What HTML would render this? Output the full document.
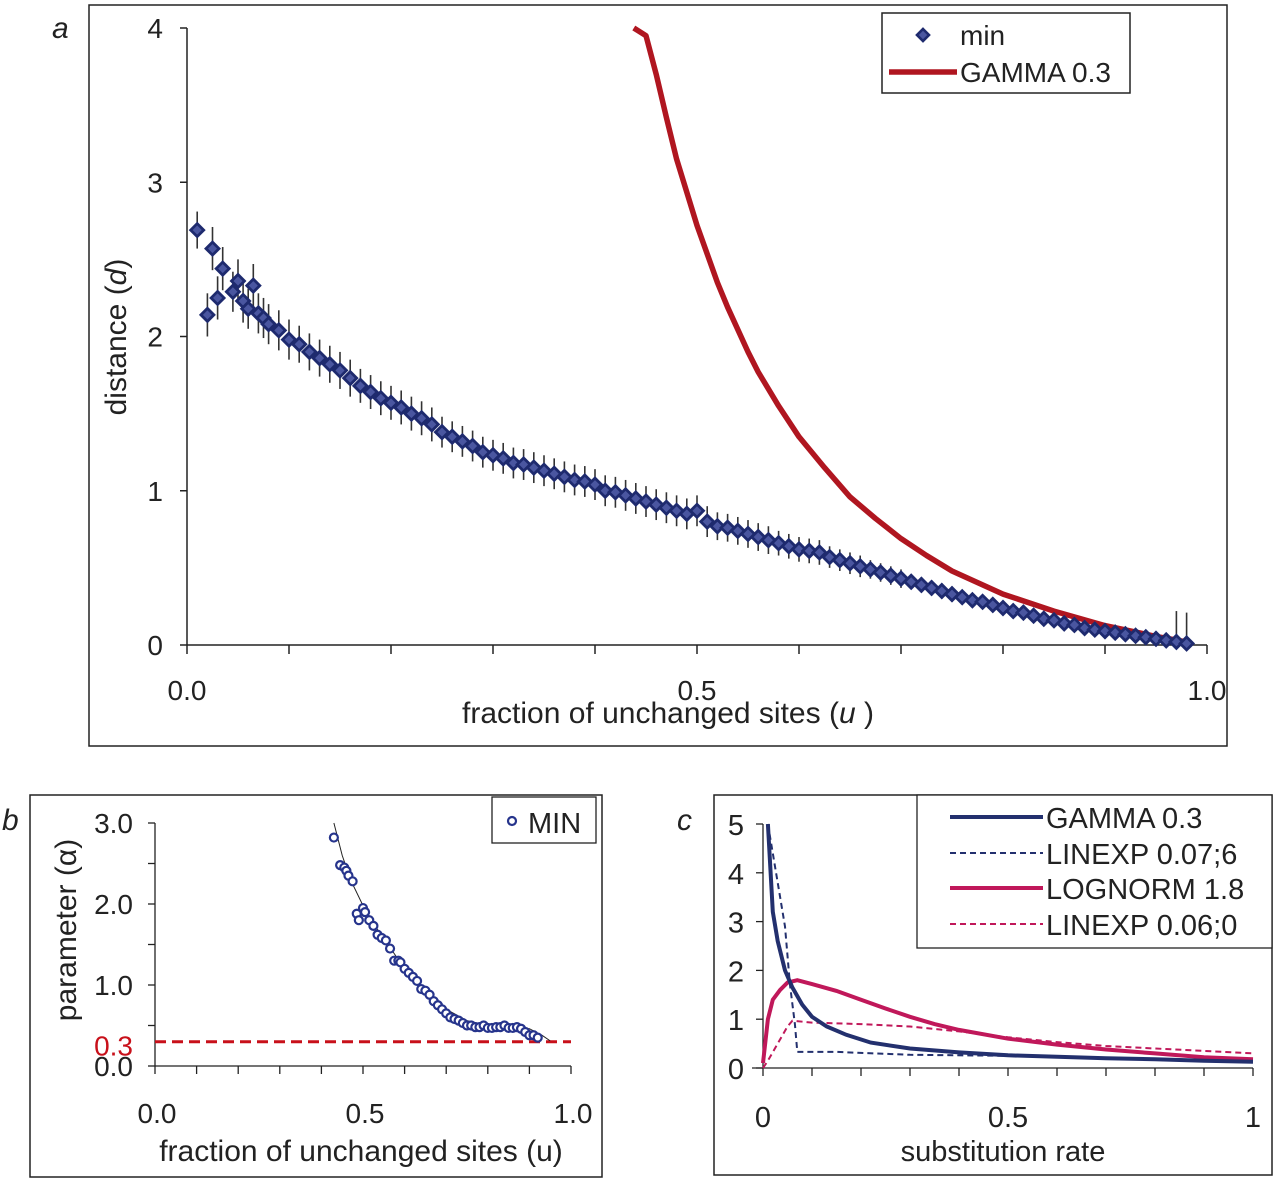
<!DOCTYPE html>
<html><head><meta charset="utf-8"><style>
html,body{margin:0;padding:0;background:#fff;}
svg{display:block;font-family:"Liberation Sans",sans-serif;}
</style></head><body>
<svg id="s" width="1280" height="1182" viewBox="0 0 1280 1182"></svg>
<script>
// ---------- Panel a data ----------
const uA=[0.01,0.02,0.025,0.03,0.035,0.045,0.05,0.055,0.06,0.065,0.07,0.075,0.08,0.09,0.1,0.11,0.12,0.13,0.14,0.15,0.16,0.17,0.18,0.19,0.2,0.21,0.22,0.23,0.24,0.25,0.26,0.27,0.28,0.29,0.3,0.31,0.32,0.33,0.34,0.35,0.36,0.37,0.38,0.39,0.4,0.41,0.42,0.43,0.44,0.45,0.46,0.47,0.48,0.49,0.5,0.51,0.52,0.53,0.54,0.55,0.56,0.57,0.58,0.59,0.6,0.61,0.62,0.63,0.64,0.65,0.66,0.67,0.68,0.69,0.7,0.71,0.72,0.73,0.74,0.75,0.76,0.77,0.78,0.79,0.8,0.81,0.82,0.83,0.84,0.85,0.86,0.87,0.88,0.89,0.9,0.91,0.92,0.93,0.94,0.95,0.96,0.97,0.98];
const dA=[2.69,2.14,2.57,2.25,2.44,2.29,2.36,2.23,2.18,2.33,2.15,2.12,2.08,2.04,1.98,1.95,1.9,1.86,1.82,1.78,1.73,1.68,1.64,1.6,1.57,1.54,1.5,1.47,1.43,1.38,1.35,1.32,1.29,1.25,1.23,1.21,1.18,1.17,1.15,1.13,1.11,1.09,1.07,1.06,1.04,1.0,0.99,0.97,0.95,0.93,0.91,0.89,0.87,0.85,0.87,0.8,0.77,0.76,0.74,0.72,0.7,0.68,0.66,0.64,0.62,0.61,0.6,0.57,0.55,0.53,0.51,0.49,0.47,0.45,0.43,0.41,0.39,0.37,0.35,0.33,0.31,0.29,0.28,0.26,0.24,0.22,0.21,0.19,0.17,0.16,0.14,0.13,0.11,0.1,0.09,0.08,0.07,0.06,0.05,0.04,0.03,0.02,0.01];
const eA=[0.12,0.14,0.14,0.14,0.14,0.13,0.14,0.14,0.13,0.14,0.13,0.13,0.13,0.13,0.13,0.12,0.12,0.12,0.12,0.12,0.12,0.11,0.11,0.11,0.11,0.11,0.11,0.11,0.11,0.1,0.1,0.1,0.1,0.1,0.1,0.1,0.1,0.1,0.1,0.1,0.1,0.1,0.1,0.1,0.1,0.1,0.1,0.1,0.1,0.1,0.1,0.1,0.1,0.1,0.1,0.1,0.09,0.09,0.09,0.09,0.09,0.09,0.08,0.08,0.08,0.08,0.08,0.07,0.07,0.07,0.07,0.06,0.06,0.06,0.06,0.05,0.05,0.05,0.05,0.05,0.04,0.04,0.04,0.04,0.04,0.04,0.03,0.03,0.03,0.03,0.03,0.03,0.03,0.03,0.03,0.03,0.03,0.03,0.03,0.03,0.03,0.2,0.2];
const uG=[0.438,0.45,0.46,0.47,0.48,0.5,0.52,0.53,0.55,0.56,0.58,0.6,0.625,0.65,0.675,0.7,0.725,0.75,0.8,0.85,0.9,0.95,0.98];
const dG=[4.0,3.95,3.7,3.42,3.15,2.72,2.35,2.19,1.9,1.77,1.55,1.35,1.15,0.96,0.82,0.69,0.58,0.48,0.33,0.22,0.126,0.056,0.02];
const ticksAy=["0","1","2","3","4"];
// ---------- Panel b data ----------
const uB=[0.43,0.445,0.455,0.46,0.465,0.475,0.485,0.49,0.5,0.505,0.515,0.525,0.535,0.545,0.555,0.565,0.575,0.585,0.59,0.6,0.61,0.62,0.63,0.64,0.65,0.66,0.67,0.68,0.69,0.7,0.71,0.72,0.73,0.74,0.75,0.76,0.77,0.78,0.79,0.8,0.81,0.82,0.83,0.84,0.85,0.86,0.87,0.88,0.89,0.9,0.91,0.92];
const aB=[2.82,2.48,2.45,2.41,2.35,2.28,1.88,1.8,1.95,1.9,1.8,1.73,1.62,1.58,1.55,1.45,1.3,1.3,1.28,1.2,1.15,1.1,1.05,0.95,0.93,0.88,0.8,0.75,0.7,0.65,0.6,0.58,0.56,0.53,0.5,0.5,0.48,0.48,0.5,0.47,0.47,0.48,0.48,0.5,0.47,0.47,0.48,0.46,0.42,0.38,0.38,0.35];
const uBf=[0.43,0.45,0.47,0.5,0.53,0.56,0.6,0.65,0.7,0.75,0.8,0.85,0.9,0.93,0.95];
const aBf=[3.0,2.6,2.3,1.98,1.72,1.5,1.2,0.92,0.7,0.56,0.5,0.49,0.46,0.38,0.31];
const ticksBy=["0.0","1.0","2.0","3.0"];
// ---------- Panel c data ----------
const xGam=[0.01,0.02,0.03,0.045,0.06,0.08,0.1,0.13,0.17,0.22,0.3,0.4,0.5,0.6,0.7,0.8,0.9,1.0];
const yGam=[5.0,3.2,2.6,2.0,1.65,1.3,1.05,0.85,0.68,0.52,0.4,0.32,0.26,0.23,0.2,0.18,0.15,0.13];
const xL1=[0.01,0.03,0.045,0.055,0.065,0.07,0.15,0.3,0.5,0.7,1.0];
const yL1=[5.0,3.8,2.9,1.7,0.9,0.33,0.33,0.27,0.25,0.2,0.15];
const xLog=[0.0,0.01,0.02,0.035,0.05,0.07,0.1,0.15,0.2,0.25,0.3,0.35,0.4,0.5,0.6,0.7,0.8,0.9,1.0];
const yLog=[0.1,1.0,1.4,1.6,1.75,1.8,1.72,1.58,1.4,1.22,1.05,0.9,0.78,0.6,0.48,0.38,0.3,0.22,0.18];
const xL2=[0.0,0.01,0.03,0.05,0.06,0.1,0.2,0.3,0.4,0.5,0.6,0.7,0.8,0.9,1.0];
const yL2=[0.0,0.15,0.5,0.85,0.97,0.93,0.9,0.85,0.75,0.63,0.53,0.45,0.4,0.35,0.3];
const ticksCy=["0","1","2","3","4","5"];

const NS="http://www.w3.org/2000/svg", S=document.getElementById('s');
function el(tag,attrs,parent,txt){const e=document.createElementNS(NS,tag);for(const k in attrs)e.setAttribute(k,attrs[k]);if(txt!==undefined)e.textContent=txt;(parent||S).appendChild(e);return e;}
function lin(d0,d1,r0,r1){return v=>r0+(v-d0)*(r1-r0)/(d1-d0);}
function pts(xs,ys,fx,fy){return xs.map((x,i)=>fx(x).toFixed(1)+','+fy(ys[i]).toFixed(1)).join(' ');}

// ================= Panel a =================
{
const g=el('g',{});

const r=el('rect',{x:89,y:5,width:1138,height:741,fill:'none',stroke:'#222','stroke-width':1.5},g);

const t=el('text',{x:52,y:38,'font-size':30,'font-style':'italic',fill:'#222'},g,'a');

const fx=lin(0,1,187,1207), fy=lin(0,4,645,28);
el('line',{x1:187,y1:28,x2:187,y2:645,stroke:'#222','stroke-width':1.5},g);
el('line',{x1:187,y1:645,x2:1207,y2:645,stroke:'#222','stroke-width':1.5},g);
ticksAy.forEach((lb,i)=>{const y=fy(+lb);el('line',{x1:180,y1:y,x2:187,y2:y,stroke:'#222','stroke-width':1.5},g);
 const tt=el('text',{x:163,y:y+10,'font-size':28,'text-anchor':'end',fill:'#222'},g,lb);});
for(let i=0;i<=10;i++){const x=fx(i/10);el('line',{x1:x,y1:645,x2:x,y2:654,stroke:'#222','stroke-width':1.5},g);}
[["0.0",0],["0.5",0.5],["1.0",1]].forEach(([lb,v])=>{const tt=el('text',{x:fx(v),y:700,'font-size':28,'text-anchor':'middle',fill:'#222'},g,lb);});
const xt=el('text',{x:668,y:723,'font-size':30,'text-anchor':'middle',fill:'#222'},g);

xt.innerHTML='fraction of unchanged sites (<tspan font-style="italic">u</tspan> )';
const yt=el('text',{x:0,y:0,'font-size':30,'text-anchor':'middle',fill:'#222',transform:'translate(126,337) rotate(-90)'},g);

yt.innerHTML='distance (<tspan font-style="italic">d</tspan>)';
uA.forEach((u,i)=>{const l=el('line',{x1:fx(u),x2:fx(u),y1:fy(dA[i]+eA[i]),y2:fy(Math.max(0,dA[i]-eA[i])),stroke:'#333','stroke-width':1.6},g);
 });
const gc=el('polyline',{points:pts(uG,dG,fx,fy),fill:'none',stroke:'#b01620','stroke-width':5.5,'stroke-linejoin':'round'},g);

uA.forEach((u,i)=>{const x=fx(u),y=fy(dA[i]);const p=el('polygon',{points:`${x},${y-6.5} ${x+6.5},${y} ${x},${y+6.5} ${x-6.5},${y}`,fill:'#4a56a0',stroke:'#1e2a6e','stroke-width':2.8},g);
 });
const lg=el('g',{},g);
el('rect',{x:882,y:13,width:248,height:80,fill:'#fff',stroke:'#222','stroke-width':1.5},lg);
el('polygon',{points:'923,29 929,35 923,41 917,35',fill:'#4a56a0',stroke:'#1e2a6e','stroke-width':2.6},lg);
el('text',{x:960,y:45,'font-size':28,fill:'#222'},lg,'min');
el('line',{x1:889,y1:72,x2:957,y2:72,stroke:'#b01620','stroke-width':5.5},lg);
el('text',{x:960,y:82,'font-size':28,fill:'#222'},lg,'GAMMA 0.3');
}

// ================= Panel b =================
{
const g=el('g',{});
el('rect',{x:30,y:795,width:572,height:382,fill:'none',stroke:'#222','stroke-width':1.5},g);
const t=el('text',{x:2,y:830,'font-size':30,'font-style':'italic',fill:'#222'},g,'b');
const fx=lin(0,1,155,571), fy=lin(0,3,1066,823);
el('line',{x1:155,y1:823,x2:155,y2:1066,stroke:'#222','stroke-width':1.3},g);
el('line',{x1:155,y1:1066,x2:571,y2:1066,stroke:'#222','stroke-width':1.3},g);
for(let v=0;v<=3;v+=0.5){const y=fy(v);el('line',{x1:148,y1:y,x2:155,y2:y,stroke:'#222','stroke-width':1.3},g);}
ticksBy.forEach(lb=>{const tt=el('text',{x:133,y:fy(+lb)+10,'font-size':28,'text-anchor':'end',fill:'#222'},g,lb);});
const r3=el('text',{x:133,y:fy(0.3)+14,'font-size':28,'text-anchor':'end',fill:'#c8101a'},g,'0.3');
for(let i=0;i<=10;i++){const x=fx(i/10);el('line',{x1:x,y1:1066,x2:x,y2:1074,stroke:'#222','stroke-width':1.3},g);}
[["0.0",0],["0.5",0.5],["1.0",1]].forEach(([lb,v])=>{const tt=el('text',{x:fx(v)+2,y:1123,'font-size':28,'text-anchor':'middle',fill:'#222'},g,lb);});
const xt=el('text',{x:361,y:1161,'font-size':30,'text-anchor':'middle',fill:'#222'},g,'fraction of unchanged sites (u)');
const yt=el('text',{x:0,y:0,'font-size':30,'text-anchor':'middle',fill:'#222',transform:'translate(76,930) rotate(-90)'},g,'parameter (α)');
const rl=el('line',{x1:155,x2:571,y1:fy(0.3),y2:fy(0.3),stroke:'#c8101a','stroke-width':3,'stroke-dasharray':'11,6'},g);
const fc=el('polyline',{points:pts(uBf,aBf,fx,fy),fill:'none',stroke:'#222','stroke-width':1},g);
uB.forEach((u,i)=>{const c=el('circle',{cx:fx(u),cy:fy(aB[i]),r:4,fill:'#fff',stroke:'#26348c','stroke-width':2.2},g);});
const lg=el('g',{},g);
el('rect',{x:492,y:797,width:104,height:46,fill:'#fff',stroke:'#222','stroke-width':1.3},lg);
el('circle',{cx:512,cy:821,r:4,fill:'#fff',stroke:'#26348c','stroke-width':2.2},lg);
el('text',{x:528,y:833,'font-size':29,fill:'#222'},lg,'MIN');
}

// ================= Panel c =================
{
const g=el('g',{});
el('rect',{x:714,y:795,width:558,height:380,fill:'none',stroke:'#222','stroke-width':1.5},g);
const t=el('text',{x:677,y:830,'font-size':30,'font-style':'italic',fill:'#222'},g,'c');
const fx=lin(0,1,763,1253), fy=lin(0,5,1068,824);
el('line',{x1:763,y1:824,x2:763,y2:1068,stroke:'#222','stroke-width':1.3},g);
el('line',{x1:752,y1:1068,x2:1253,y2:1068,stroke:'#222','stroke-width':1.3},g);
ticksCy.forEach(lb=>{const y=fy(+lb);el('line',{x1:756,y1:y,x2:763,y2:y,stroke:'#222','stroke-width':1.3},g);
 const tt=el('text',{x:744,y:y+11,'font-size':29,'text-anchor':'end',fill:'#222'},g,lb);});
for(let i=0;i<=10;i++){const x=fx(i/10);el('line',{x1:x,y1:1068,x2:x,y2:1076,stroke:'#222','stroke-width':1.3},g);}
[["0",0],["0.5",0.5],["1",1]].forEach(([lb,v])=>{const tt=el('text',{x:fx(v),y:1127,'font-size':29,'text-anchor':'middle',fill:'#222'},g,lb);});
const xt=el('text',{x:1003,y:1161,'font-size':29,'text-anchor':'middle',fill:'#222'},g,'substitution rate');
const series=[[xL2,yL2,'#c0185a','6,4',2,'linexp-0.06-0-line'],[xL1,yL1,'#23306e','6,4',2,'linexp-0.07-6-line'],[xLog,yLog,'#c0185a','',4,'lognorm-1.8-line'],[xGam,yGam,'#23306e','',4,'gamma-0.3-line']];
series.forEach(([xs,ys,c,da,w,nm])=>{const a={points:pts(xs,ys,fx,fy),fill:'none',stroke:c,'stroke-width':w};if(da)a['stroke-dasharray']=da;const p=el('polyline',a,g);
 });
const lg=el('g',{},g);
el('rect',{x:917,y:795,width:355,height:153,fill:'#fff',stroke:'#222','stroke-width':1.3},lg);
[['GAMMA 0.3','#23306e','',4,817],['LINEXP 0.07;6','#23306e','6,4',2,853],['LOGNORM 1.8','#c0185a','',4,888],['LINEXP 0.06;0','#c0185a','6,4',2,924]].forEach(([lb,c,da,w,y])=>{
 const a={x1:950,x2:1043,y1:y,y2:y,stroke:c,'stroke-width':w};if(da)a['stroke-dasharray']=da;el('line',a,lg);
 const tt=el('text',{x:1046,y:y+11,'font-size':29,fill:'#222'},lg,lb);});
}
</script>
</body></html>
